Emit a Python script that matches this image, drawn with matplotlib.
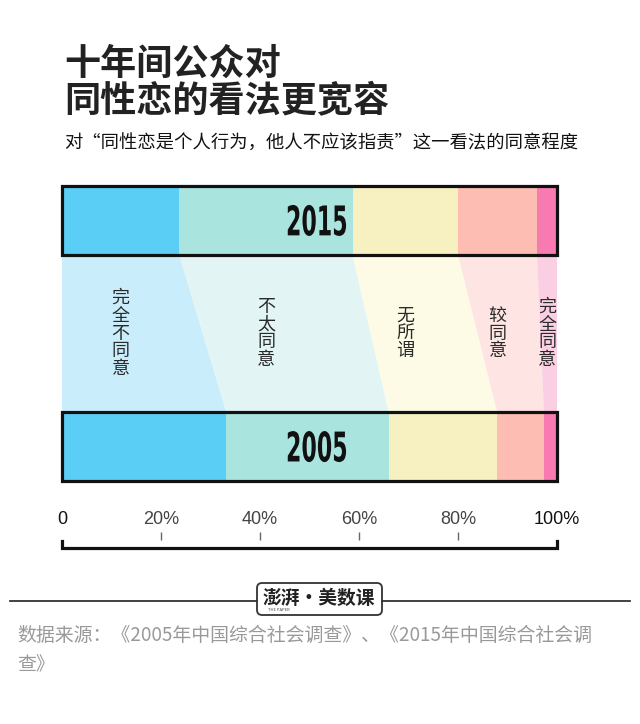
import numpy as np
import matplotlib.pyplot as plt
from matplotlib.lines import Line2D
from matplotlib.patches import FancyBboxPatch, PathPatch
from matplotlib.textpath import TextPath
from matplotlib.font_manager import FontProperties
from matplotlib.transforms import Affine2D

plt.rcParams['font.family'] = ['Noto Sans CJK SC', 'DejaVu Sans']

categories = ['完全不同意', '不太同意', '无所谓', '较同意', '完全同意']
years = ['2015', '2005']
share_2015 = [23.7, 35.0, 21.3, 16.0, 4.0]
share_2005 = [33.2, 32.8, 21.9, 9.5, 2.6]
bar_colors = ['#5bcef5', '#aae4df', '#f7f1c1', '#fdbdb2', '#f77bb1']
band_colors = ['#c9edfb', '#e2f5f4', '#fdfbe6', '#fee5e3', '#fbcfe3']
scale_ticks = [0, 20, 40, 60, 80, 100]
scale_labels = ['0', '20%', '40%', '60%', '80%', '100%']

W, H = 640, 724
fig = plt.figure(figsize=(6.4, 7.24), dpi=100)


def fx(px):
    return px / W


def fy(py):
    return 1 - py / H


# title block
fig.text(fx(64), fy(64), '十年间公众对', fontsize=26, fontweight='bold',
         color='#222', ha='left', va='center')
fig.text(fx(64), fy(102), '同性恋的看法更宽容', fontsize=26, fontweight='bold',
         color='#222', ha='left', va='center')
fig.text(fx(64), fy(144), '对“同性恋是个人行为，他人不应该指责”这一看法的同意程度',
         fontsize=13.2, color='#111', ha='left', va='center')

# main chart
ax = fig.add_axes([fx(62), fy(481), fx(557) - fx(62), fy(186) - fy(481)])
bh = 69 / 226.5
ax.set_xlim(0, 100)
ax.set_ylim(-bh / 2, 1 + bh / 2)
ax.axis('off')

left15 = np.concatenate([[0], np.cumsum(share_2015)[:-1]])
left05 = np.concatenate([[0], np.cumsum(share_2005)[:-1]])

for i, cat in enumerate(categories):
    ax.barh(1, share_2015[i], left=left15[i], height=bh, color=bar_colors[i], linewidth=0)
    ax.barh(0, share_2005[i], left=left05[i], height=bh, color=bar_colors[i], linewidth=0)
    xs = [left15[i], left15[i] + share_2015[i], left05[i] + share_2005[i], left05[i]]
    ys = [1 - bh / 2, 1 - bh / 2, bh / 2, bh / 2]
    ax.fill(xs, ys, color=band_colors[i], linewidth=0)
    ax.text(left15[i] + share_2015[i] / 2, 0.5, '\n'.join(cat), ha='center', va='center',
            fontsize=13, color='#2a2a2a', linespacing=0.98)

# condensed year labels (no narrow font installed, so squeeze a text path)
year_font = FontProperties(family='DejaVu Sans', weight='bold')
for y, yr in zip([1, 0], years):
    ax.barh(y, 100, left=0, height=bh, fill=False, edgecolor='#111',
            linewidth=2.3, clip_on=False)
    tp = TextPath((0, 0), yr, size=41, prop=year_font)
    ext = tp.get_extents()
    cx, cy = ax.transData.transform((51.5, y))
    tr = (Affine2D().translate(-(ext.x0 + ext.x1) / 2, -(ext.y0 + ext.y1) / 2)
          .scale(0.54, 1).translate(cx, cy))
    fig.add_artist(PathPatch(tp, transform=tr, facecolor='#111', lw=0))

# percent scale
ax2 = fig.add_axes([fx(62), fy(555), fx(557) - fx(62), fy(505) - fy(555)])
ax2.set_xlim(0, 100)
ax2.set_ylim(0, 1)
ax2.axis('off')
ax2.vlines(scale_ticks[1:-1], 0.30, 0.46, color='#666', lw=1)
ax2.plot([scale_ticks[0], scale_ticks[0], scale_ticks[-1], scale_ticks[-1]],
         [0.28, 0.14, 0.14, 0.28], color='#111', lw=2.3,
         solid_joinstyle='miter', clip_on=False)
for t, lab in zip(scale_ticks, scale_labels):
    ax2.text(t, 0.70, lab, ha='center', va='center', fontsize=13,
             family=['Liberation Sans', 'DejaVu Sans'],
             color='#111' if t in (0, 100) else '#444')

# footer
fig.add_artist(Line2D([fx(10), fx(257)], [fy(601), fy(601)], color='#333', lw=1.3))
fig.add_artist(Line2D([fx(382), fx(630)], [fy(601), fy(601)], color='#333', lw=1.3))
fig.add_artist(FancyBboxPatch((fx(257), fy(615)), fx(382) - fx(257), fy(583) - fy(615),
                              boxstyle='round,pad=0,rounding_size=0.008',
                              mutation_aspect=W / H, transform=fig.transFigure,
                              facecolor='white', edgecolor='#333', lw=1.3))
fig.text(fx(319), fy(598), '澎湃·美数课', fontsize=13.5, fontweight='bold',
         color='#222', ha='center', va='center')
fig.text(fx(268), fy(610), 'THE PAPER', fontsize=3, color='#444', ha='left', va='center')

fig.text(fx(17), fy(635), '数据来源：《2005年中国综合社会调查》、《2015年中国综合社会调',
         fontsize=13.6, color='#999', ha='left', va='center')
fig.text(fx(17), fy(665), '查》', fontsize=13.6, color='#999', ha='left', va='center')

fig.savefig('out.png', dpi=100, facecolor='white')
